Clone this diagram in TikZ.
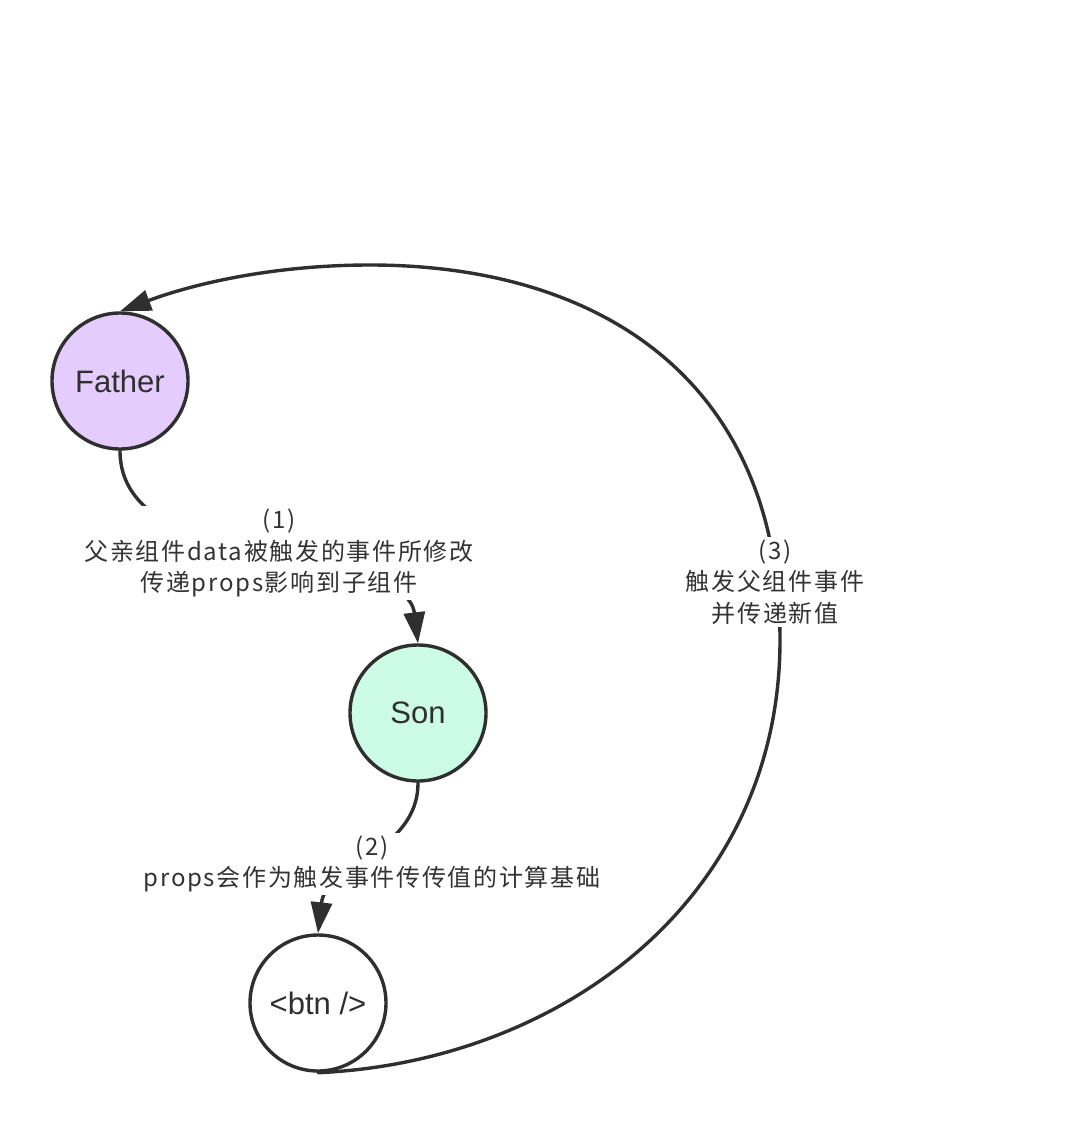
\documentclass[tikz,border=0pt]{standalone}
\usepackage{fontspec}
\setmainfont{Liberation Sans}
\newfontfamily\cjk[LetterSpace=7]{Noto Sans CJK SC}
\usetikzlibrary{arrows.meta}
\definecolor{ink}{HTML}{2F2F2F}
\definecolor{txt}{HTML}{333333}
\definecolor{fatherfill}{HTML}{E4CCFD}
\definecolor{sonfill}{HTML}{CCFCE6}
\tikzset{
  circnode/.style={circle, draw=ink, line width=3.4pt, minimum size=136pt, inner sep=0pt,
    font=\fontsize{31}{34}\selectfont, text=ink},
  conn/.style={draw=ink, line width=3.4pt, line cap=round,
    -{Triangle[length=31pt,width=21pt]}},
  edgelabel/.style={fill=white, inner sep=3pt, align=center, text=txt,
    font=\cjk\fontsize{24}{31.5}\selectfont}
}
\begin{document}
\begin{tikzpicture}[x=1pt,y=-1pt]
\useasboundingbox (0,0) rectangle (1084,1123);
\node[circnode, fill=fatherfill] (father) at (120,381) {Father};
\node[circnode, fill=sonfill] (son) at (418,713) {Son};
\node[circnode, fill=white] (btn) at (318,1003) {<btn />};
% edge 1
\draw[conn] (father.south) .. controls +(0,130) and +(-12,-100) .. (son.north);
% edge 2
\draw[conn] (son.south) .. controls +(0,70) and +(8,-70) .. (btn.north);
% edge 3
\coordinate (r3) at (780,640);
\coordinate (top3) at (370,265);
\draw[conn] (btn.south) .. controls (560,1062) and (780,900) .. (r3)
  .. controls (780,380) and (600,265) .. (top3)
  .. controls (270,265) and (190,285) .. (father.north);
% labels
\node[edgelabel] (l1) at (279,553) {(1)\\父亲组件data被触发的事件所修改\\传递props影响到子组件};
\node[edgelabel] (l2) at (372,864) {(2)\\props会作为触发事件传传值的计算基础};
\node[edgelabel] (l3) at (775,582) {(3)\\触发父组件事件\\并传递新值};
\end{tikzpicture}
\end{document}
